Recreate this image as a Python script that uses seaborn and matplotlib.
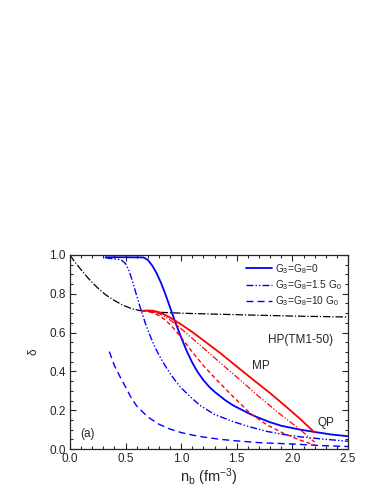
import numpy as np
import pandas as pd
import matplotlib
matplotlib.use("Agg")
import matplotlib.pyplot as plt
import seaborn as sns
from matplotlib.ticker import MultipleLocator

# data
hp_x = [0.0, 0.03, 0.07, 0.12, 0.18, 0.25, 0.32, 0.4, 0.48, 0.56, 0.64, 0.75, 0.9, 1.1, 1.5, 2.0, 2.5]
hp_y = [1.0, 0.975, 0.945, 0.91, 0.87, 0.83, 0.795, 0.765, 0.74, 0.722, 0.712, 0.706, 0.702, 0.698, 0.692, 0.685, 0.68]

g0_x = [0.32, 0.5, 0.66, 0.7, 0.74, 0.78, 0.82, 0.86, 0.9, 0.94, 0.98, 1.0, 1.05, 1.1, 1.15, 1.2, 1.25, 1.3,
        1.4, 1.47, 1.6, 1.68, 1.8, 1.9, 2.07, 2.2, 2.35, 2.5]
g0_y = [0.988, 0.988, 0.987, 0.975, 0.945, 0.905, 0.855, 0.795, 0.73, 0.665, 0.605, 0.575, 0.505, 0.445, 0.395,
        0.355, 0.322, 0.295, 0.25, 0.224, 0.186, 0.165, 0.138, 0.12, 0.1, 0.088, 0.075, 0.066]

g15_x = [0.32, 0.46, 0.5, 0.53, 0.56, 0.6, 0.64, 0.68, 0.72, 0.76, 0.8, 0.85, 0.9, 0.95, 1.0, 1.1, 1.17, 1.3,
         1.47, 1.6, 1.77, 1.9, 2.07, 2.3, 2.5]
g15_y = [0.985, 0.975, 0.955, 0.92, 0.87, 0.79, 0.715, 0.645, 0.585, 0.53, 0.485, 0.435, 0.39, 0.35, 0.315,
         0.26, 0.225, 0.178, 0.141, 0.117, 0.091, 0.077, 0.063, 0.05, 0.04]

g10_x = [0.354, 0.4, 0.45, 0.5, 0.55, 0.6, 0.7, 0.8, 0.9, 1.0, 1.1, 1.2, 1.35, 1.5, 1.7, 2.0, 2.25, 2.5]
g10_y = [0.502, 0.43, 0.373, 0.32, 0.265, 0.222, 0.165, 0.128, 0.103, 0.085, 0.072, 0.062, 0.05, 0.042,
         0.033, 0.026, 0.018, 0.013]

mp0_x = [0.65, 0.7, 0.75, 0.8, 0.85, 0.9, 0.95, 1.0, 1.1, 1.2, 1.35, 1.5, 1.65, 1.8, 1.95, 2.07, 2.2]
mp0_y = [0.712, 0.714, 0.712, 0.705, 0.693, 0.677, 0.66, 0.642, 0.603, 0.56, 0.495, 0.425, 0.356, 0.288,
         0.215, 0.155, 0.085]

mp15_x = [0.65, 0.7, 0.75, 0.8, 0.85, 0.9, 0.95, 1.0, 1.1, 1.2, 1.35, 1.53, 1.7, 1.9, 2.07, 2.2]
mp15_y = [0.712, 0.712, 0.708, 0.698, 0.684, 0.665, 0.642, 0.62, 0.57, 0.52, 0.445, 0.356, 0.27, 0.175, 0.1, 0.035]

mp10_x = [0.65, 0.7, 0.75, 0.8, 0.85, 0.9, 0.95, 1.0, 1.1, 1.2, 1.32, 1.45, 1.62, 1.77, 1.92, 2.05, 2.2]
mp10_y = [0.712, 0.71, 0.70, 0.688, 0.668, 0.642, 0.61, 0.575, 0.5, 0.43, 0.356, 0.28, 0.184, 0.125, 0.081,
          0.05, 0.02]

sns.set_style("ticks")
plt.rcParams['font.family'] = ['Liberation Sans', 'DejaVu Sans']
plt.rcParams['mathtext.fontset'] = 'custom'
plt.rcParams['mathtext.rm'] = 'Liberation Sans'
plt.rcParams['mathtext.it'] = 'Liberation Sans:italic'

fig = plt.figure(figsize=(3.82, 4.94), dpi=100)
ax = fig.add_axes([0.183, 0.091, 0.728, 0.393])

dashdotdot = (0, (5, 1.5, 1, 1.5, 1, 1.5))

sns.lineplot(x=hp_x, y=hp_y, ax=ax, color='black', lw=0.9, linestyle=(0, (6, 1.5, 1, 1.5)), sort=False)
sns.lineplot(x=g0_x, y=g0_y, ax=ax, color='#0000ff', lw=1.3, label='G$_3$=G$_8$=0', sort=False)
sns.lineplot(x=g15_x, y=g15_y, ax=ax, color='#0000ff', lw=1.0, linestyle=dashdotdot,
             label='G$_3$=G$_8$=1.5 G$_0$', sort=False)
sns.lineplot(x=g10_x, y=g10_y, ax=ax, color='#0000ff', lw=1.0, linestyle=(0, (5, 3)),
             label='G$_3$=G$_8$=10 G$_0$', sort=False)
sns.lineplot(x=mp0_x, y=mp0_y, ax=ax, color='#ff0000', lw=1.3, sort=False)
sns.lineplot(x=mp15_x, y=mp15_y, ax=ax, color='#ff0000', lw=0.9, linestyle=dashdotdot, sort=False)
sns.lineplot(x=mp10_x, y=mp10_y, ax=ax, color='#ff0000', lw=1.0, linestyle=(0, (3, 2)), sort=False)

ax.set_xlim(0, 2.5)
ax.set_ylim(0, 1.0)
ax.xaxis.set_major_locator(MultipleLocator(0.5))
ax.xaxis.set_minor_locator(MultipleLocator(0.1))
ax.yaxis.set_major_locator(MultipleLocator(0.2))
ax.yaxis.set_minor_locator(MultipleLocator(0.05))
ax.xaxis.set_major_formatter(plt.FormatStrFormatter('%.1f'))
ax.yaxis.set_major_formatter(plt.FormatStrFormatter('%.1f'))
ax.tick_params(which='both', direction='in', top=True, right=True, labelsize=8.5, width=0.8)
ax.tick_params(which='major', length=4, pad=3)
ax.tick_params(which='minor', length=2)
for s in ax.spines.values():
    s.set_linewidth(0.9)

ax.set_xlabel(r'n$_\mathrm{b}$ (fm$^{-3}$)', fontsize=10.5, labelpad=1)
ax.set_ylabel('δ', fontsize=8.5, labelpad=7)

ax.text(2.37, 0.56, 'HP(TM1-50)', fontsize=8.5, ha='right', va='center')
ax.text(1.72, 0.43, 'MP', fontsize=8.5, ha='center', va='center')
ax.text(2.3, 0.135, 'QP', fontsize=8.5, ha='center', va='center')
ax.text(0.16, 0.08, '(a)', fontsize=8.5, ha='center', va='center')

ax.legend(loc='upper right', bbox_to_anchor=(1.0, 0.995), frameon=False, fontsize=7.3,
          handlelength=2.6, labelspacing=0.25, borderaxespad=0.2, handletextpad=0.3)

fig.savefig('out.png', dpi=100)
